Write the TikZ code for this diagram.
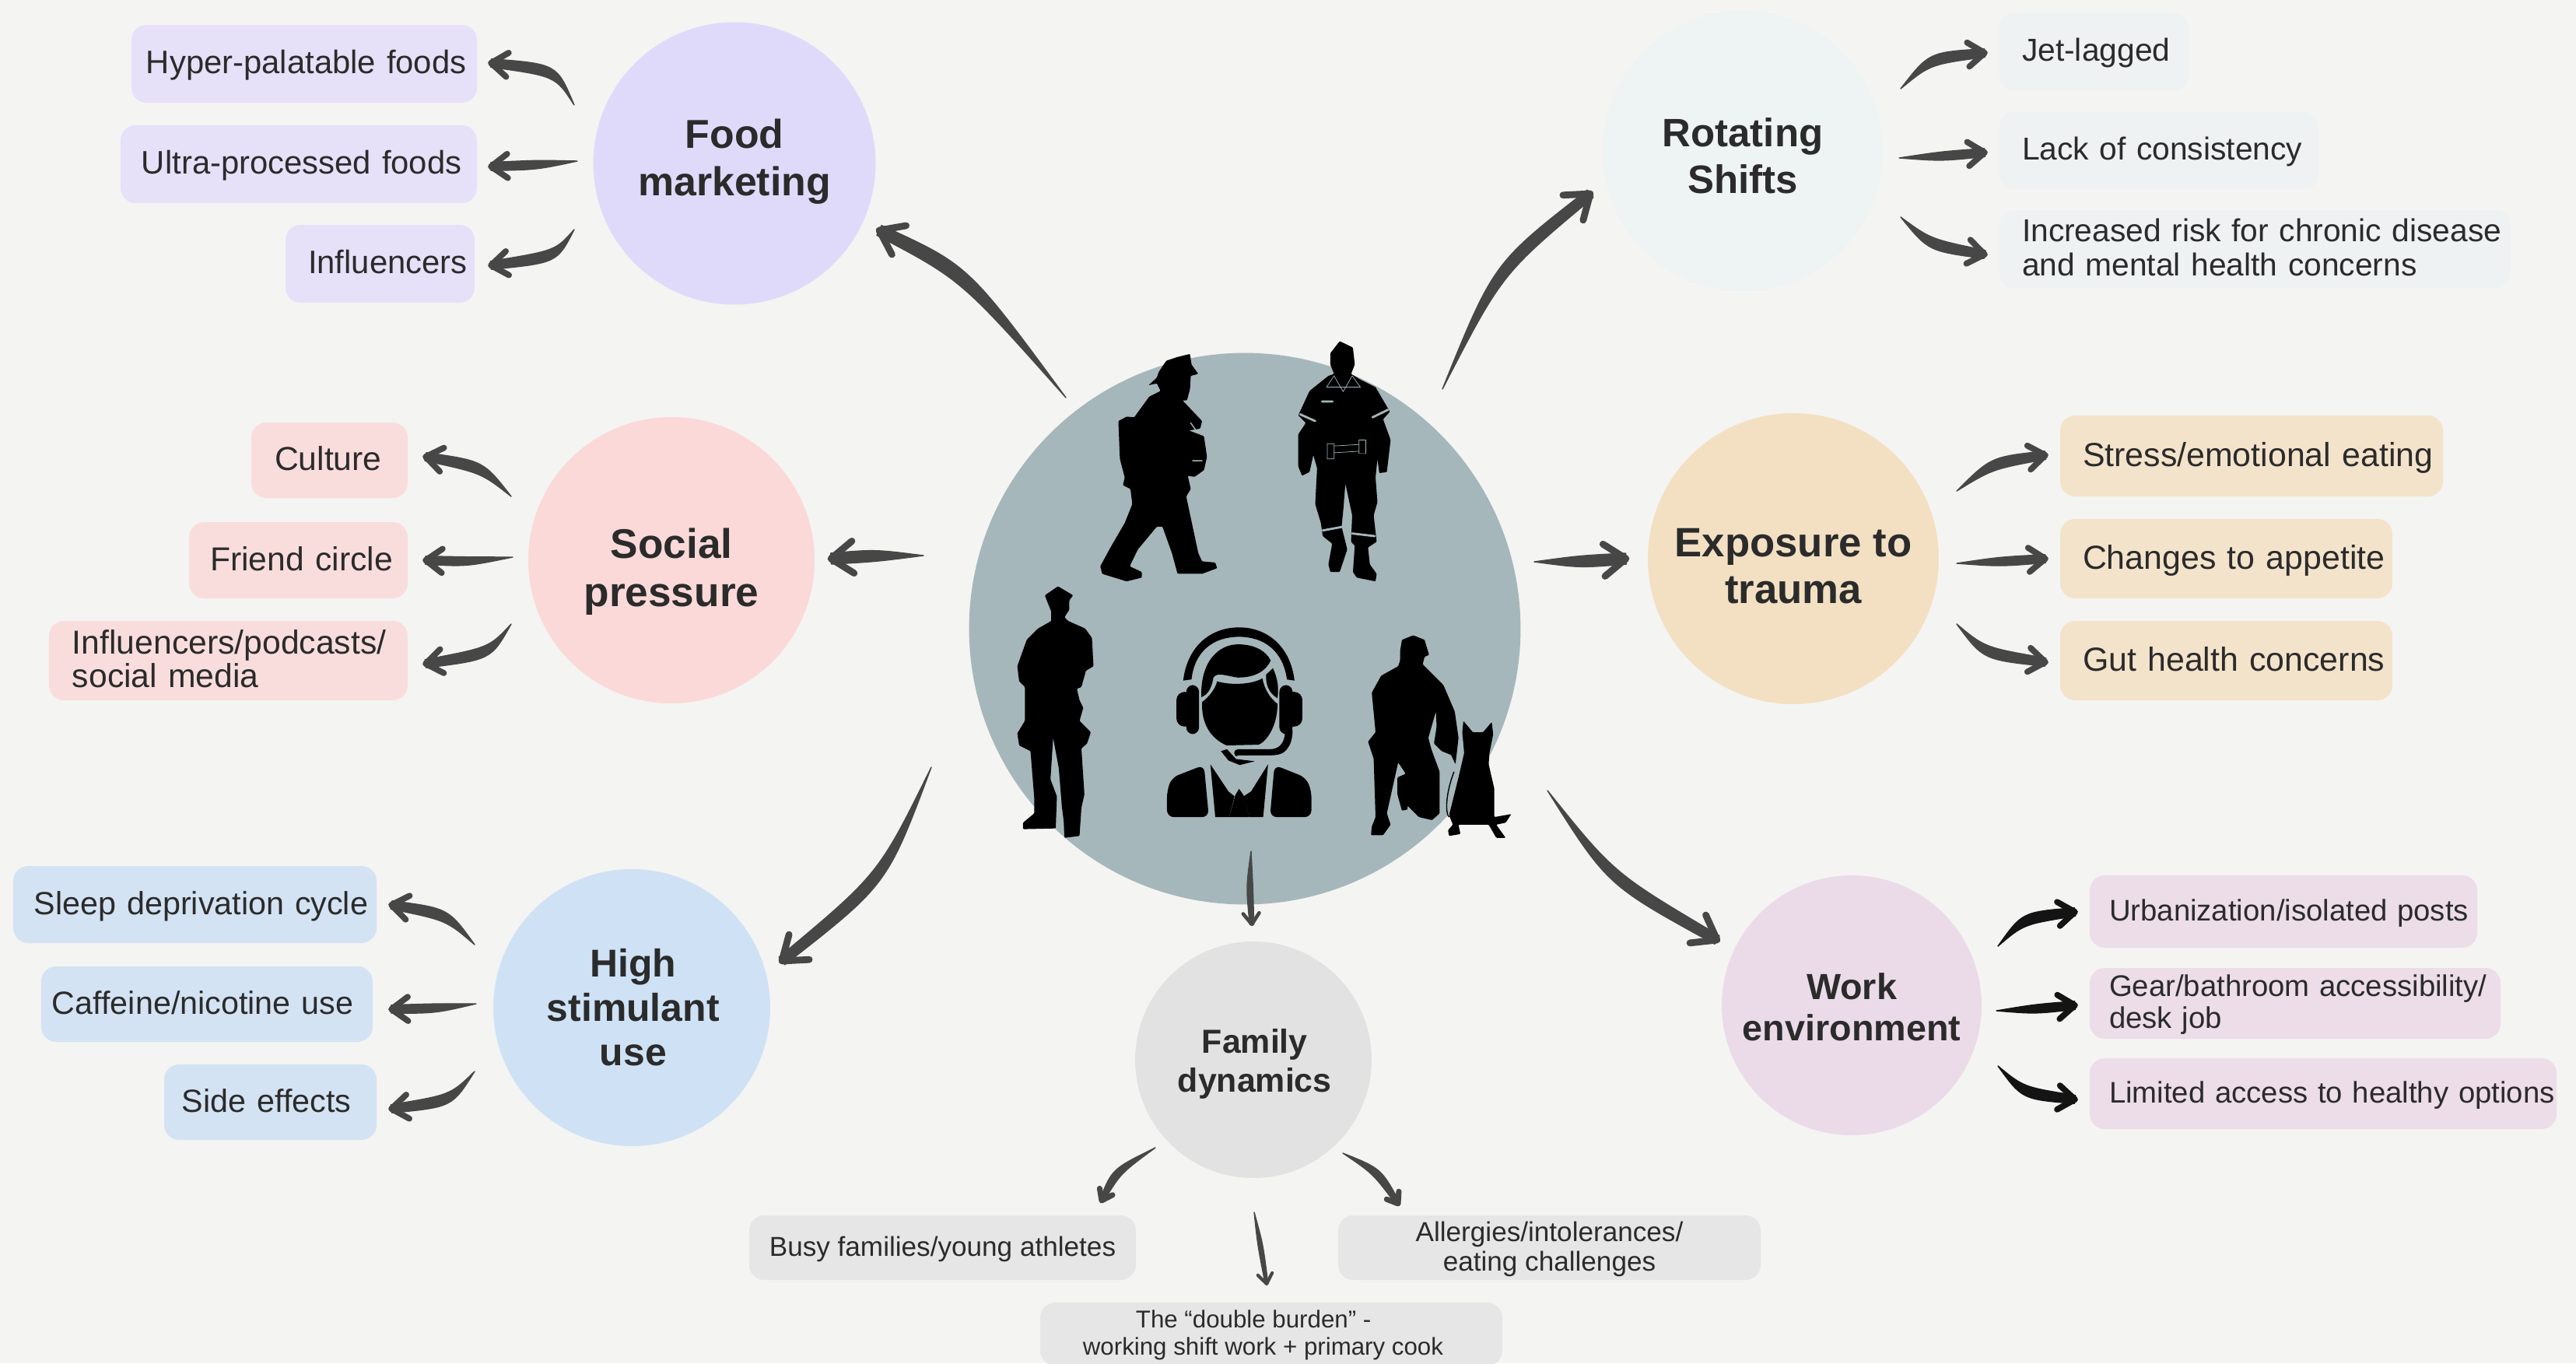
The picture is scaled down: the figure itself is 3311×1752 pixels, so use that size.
\documentclass[tikz,border=0pt]{standalone}
\usepackage{fontspec}
\setmainfont{Liberation Sans}
\usetikzlibrary{calc}
\definecolor{bgc}{HTML}{F4F4F2}
\definecolor{arrowc}{HTML}{474747}
\definecolor{workarrow}{HTML}{141414}
\definecolor{ctrc}{HTML}{A5B7BB}
\definecolor{txtc}{HTML}{2B2B2B}
\definecolor{foodc}{HTML}{E0DAFA}\definecolor{foodb}{HTML}{E6E1F8}
\definecolor{socc}{HTML}{FBD9D9}\definecolor{socb}{HTML}{F9DDDD}
\definecolor{higc}{HTML}{CFE2F5}\definecolor{higb}{HTML}{D4E3F3}
\definecolor{rotc}{HTML}{EEF3F3}\definecolor{rotb}{HTML}{EEF2F3}
\definecolor{expc}{HTML}{F3E0C3}\definecolor{expb}{HTML}{F4E3CB}
\definecolor{wrkc}{HTML}{EBDBE8}\definecolor{wrkb}{HTML}{ECDDE9}
\definecolor{famc}{HTML}{E2E2E2}\definecolor{famb}{HTML}{E6E6E6}
\tikzset{
 hub/.style={circle,inner sep=0pt},
 hubtext/.style={align=center,text=txtc,inner sep=0pt},
 boxbase/.style={rounded corners=11pt,inner sep=0pt,text=txtc},
 sil/.style={fill=black,draw=none,rounded corners=0.6pt},
 gap/.style={draw=ctrc,line cap=round,line join=round},
}
\newcommand\tall{\rule[-0.21em]{0pt}{1.03em}}
\newcommand\deep{\rule[-0.21em]{0pt}{0pt}}
% #1 name, #2-#5 box, #6 style, #7 left padding, #8 text (\pd starts each further line)
\newcommand\bx[8]{%
 \pgfmathsetmacro\bw{(#4-#2)*0.02}\pgfmathsetmacro\bh{(#5-#3)*0.02}\pgfmathsetmacro\bp{#7*0.02}%
 \def\pd{\hspace*{\bp cm}}%
 \node[boxbase,#6,align=left,text width=\bw cm,minimum height=\bh cm] (#1) at ({(#2+#4)/2},{(#3+#5)/2}) {\pd\tall #8\deep};}
\newcommand\gx[7]{%
 \pgfmathsetmacro\bw{(#4-#2)*0.02}\pgfmathsetmacro\bh{(#5-#3)*0.02}%
 \node[boxbase,#6,align=center,minimum width=\bw cm,minimum height=\bh cm] (#1) at ({(#2+#4)/2},{(#3+#5)/2}) {\tall #7\deep};}
% #1 colour, #2 tail, #3 control, #4 tip, #5 half width, #6 half width at the tip, #7 barb length, #8 barb width
\newcommand\brush[8][arrowc]{%
 \fill[#1,draw=#1,line width=0.8pt,line join=round] (#2) .. controls ($#3!#5!90:(#4)$) .. ($(#4)!#6!-90:#3$) -- ($(#4)!#6!90:#3$) .. controls ($#3!#5!-90:(#4)$) .. (#2) -- cycle;
 \draw[#1,line width=#8,line cap=round,line join=round] ($(#4)!#7!36:#3$) -- (#4) -- ($(#4)!#7!-36:#3$);}
\begin{document}
\begin{tikzpicture}[x=0.02cm,y=-0.02cm]
\useasboundingbox (0,0) rectangle (3311,1752);
\clip (0,0) rectangle (3311,1752);
\fill[bgc] (0,0) rectangle (3311,1752);
% centre
\node[circle,fill=ctrc,minimum size=14.18cm,inner sep=0pt] (centre) at (1600,808) {};
% silhouettes
\begin{scope}[shift={(1230,420)},scale=0.4847]
 % firefighter
 \fill[sil] (535,120)--(555,90)--(585,80)--(618,72)--(622,100)--(640,125)--(620,130)--(618,165)--(610,195)--(598,195)--(650,250)--(645,270)--(615,275)--(655,290)--(663,345)--(655,380)--(630,398)--(612,395)--(620,430)--(608,450)--(625,530)--(640,600)--(650,622)--(685,625)--(690,640)--(650,655)--(585,655)--(570,600)--(545,530)--(530,530)--(480,590)--(458,635)--(490,650)--(490,665)--(450,675)--(385,655)--(380,635)--(410,580)--(445,520)--(465,470)--(460,430)--(440,420)--(445,400)--(432,350)--(428,250)--(450,238)--(470,240)--(510,185)--(540,170)--(530,150)--(508,155)--(530,135)--cycle;
 \draw[gap,line width=0.8pt] (620,255)--(632,272) (625,355)--(650,355);
 % paramedic
 \fill[sil] (990,70)--(1015,38)--(1050,55)--(1055,100)--(1045,125)--(1070,140)--(1110,160)--(1148,225)--(1130,245)--(1150,300)--(1140,385)--(1120,388)--(1115,350)--(1110,400)--(1115,465)--(1105,500)--(1113,570)--(1090,585)--(1095,630)--(1113,655)--(1110,675)--(1060,665)--(1050,650)--(1055,580)--(1045,570)--(1048,500)--(1030,415)--(1025,480)--(1020,530)--(1035,590)--(1015,650)--(990,650)--(985,630)--(995,575)--(970,555)--(965,520)--(950,470)--(955,375)--(945,340)--(935,385)--(915,395)--(905,370)--(905,285)--(925,255)--(905,235)--(935,170)--(985,130)--(1000,125)--(990,100)--cycle;
 \draw[gap,line width=1.6pt] (910,232)--(950,250) (1102,240)--(1143,220) (970,540)--(1024,530) (1048,548)--(1108,555) (968,198)--(996,198);
 \draw[gap,line width=0.4pt] (982,310) rectangle (1000,350) (1066,300) rectangle (1084,336) (1000,316)--(1066,312) (1000,334)--(1066,330) (980,160)--(1070,160)--(1048,130)--(1024,172)--(1000,130)--cycle;
 % police officer
 \fill[sil] (233,712)--(268,688)--(308,712)--(298,725)--(298,750)--(285,770)--(295,780)--(340,800)--(358,825)--(362,900)--(342,912)--(330,955)--(318,960)--(325,990)--(335,1010)--(325,1045)--(355,1075)--(345,1105)--(330,1118)--(338,1240)--(330,1275)--(325,1350)--(285,1355)--(283,1310)--(278,1270)--(270,1170)--(255,1090)--(248,1200)--(265,1245)--(262,1330)--(175,1332)--(175,1315)--(205,1290)--(205,1250)--(195,1125)--(165,1110)--(160,1078)--(180,1045)--(180,955)--(165,940)--(160,900)--(185,830)--(215,800)--(250,780)--(250,755)--(240,730)--cycle;
 % dispatcher
 \fill[black] (600,938) .. controls (610,850) and (670,797) .. (748,797) .. controls (825,797) and (885,850) .. (895,938) -- (875,935) .. controls (865,860) and (815,822) .. (748,822) .. controls (680,822) and (630,860) .. (622,935) -- cycle;
 \fill[black,rounded corners=6pt] (582,968) rectangle (625,1060) (870,968) rectangle (916,1060);
 \fill[black,rounded corners=5pt] (608,950) rectangle (642,1080) (855,950) rectangle (890,1080);
 \fill[black] (648,982) .. controls (645,880) and (700,842) .. (745,842) .. controls (790,842) and (820,860) .. (832,885) .. controls (815,920) and (780,930) .. (745,930) .. controls (710,925) and (690,915) .. (680,930) .. controls (675,960) and (665,975) .. (648,982) -- cycle;
 \fill[black] (838,905) .. controls (853,940) and (853,960) .. (850,985) .. controls (825,970) and (818,945) .. (820,922) -- cycle;
 \fill[black] (650,995) .. controls (670,980) and (685,960) .. (690,940) .. controls (720,950) and (780,950) .. (810,932) .. controls (815,960) and (830,985) .. (850,1000) .. controls (850,1060) and (820,1100) .. (800,1108) -- (715,1110) .. controls (670,1090) and (648,1050) .. (650,995) -- cycle;
 \draw[black,line width=5.5pt,line cap=round] (880,1070) .. controls (880,1110) and (860,1130) .. (830,1130) -- (745,1130);
 \draw[ctrc,line width=2pt,line cap=round] (895,1070) .. controls (895,1125) and (870,1140) .. (830,1140) -- (745,1140);
 \fill[black] (700,1125) -- (720,1150) -- (750,1162) -- (790,1152) -- (740,1146) -- (716,1120) -- cycle;
 \fill[black,rounded corners=5pt] (557,1300) -- (557,1230) -- (570,1195) -- (655,1162) -- (668,1300) -- cycle;
 \fill[black,rounded corners=5pt] (940,1300) -- (940,1230) -- (925,1195) -- (842,1162) -- (830,1300) -- cycle;
 \fill[black] (672,1160) -- (720,1232) -- (736,1245) -- (722,1300) -- (685,1300) -- cycle;
 \fill[black] (825,1160) -- (780,1232) -- (760,1245) -- (775,1300) -- (812,1300) -- cycle;
 \fill[black] (738,1242) -- (722,1300) -- (775,1300) -- (760,1242) -- (748,1225) -- cycle;
 % K9 handler
 \fill[sil] (1175,860)--(1180,830)--(1210,818)--(1240,830)--(1252,870)--(1240,875)--(1235,895)--(1255,915)--(1290,950)--(1320,1020)--(1330,1090)--(1322,1160)--(1310,1135)--(1285,1125)--(1265,1105)--(1272,1060)--(1270,1020)--(1250,1090)--(1258,1120)--(1280,1180)--(1280,1290)--(1260,1308)--(1225,1300)--(1195,1270)--(1195,1280)--(1180,1283)--(1168,1240)--(1168,1195)--(1190,1185)--(1170,1155)--(1140,1290)--(1150,1320)--(1130,1348)--(1098,1348)--(1100,1325)--(1110,1300)--(1105,1145)--(1090,1100)--(1110,1075)--(1100,970)--(1125,925)--(1170,900)--(1175,885)--cycle;
 % dog
 \fill[sil] (1340,1075)--(1343,1045)--(1368,1075)--(1395,1075)--(1418,1048)--(1422,1080)--(1412,1130)--(1410,1160)--(1425,1225)--(1425,1300)--(1470,1292)--(1455,1315)--(1430,1320)--(1455,1355)--(1430,1355)--(1410,1320)--(1370,1320)--(1330,1320)--(1335,1345)--(1305,1350)--(1302,1335)--(1315,1320)--(1305,1295)--(1330,1195)--(1345,1130)--cycle;
 \draw[black,line width=0.8pt] (1318,1180) .. controls (1295,1240) and (1295,1290) .. (1305,1300);
\end{scope}
% hubs
\node[hub,fill=foodc,minimum size=7.26cm,label={[hubtext,font=\fontsize{29.5}{34.5}\selectfont\bfseries,yshift=1.2pt]center:{Food\\marketing}}] (food) at (944,210) {};
\node[hub,fill=rotc,minimum size=7.2cm,label={[hubtext,font=\fontsize{29}{34.5}\selectfont\bfseries,yshift=-3.6pt]center:{Rotating\\Shifts}}] (rot) at (2240,194) {};
\node[hub,fill=expc,minimum size=7.48cm,label={[hubtext,font=\fontsize{30}{34.5}\selectfont\bfseries,yshift=-5.4pt]center:{Exposure to\\trauma}}] (exp) at (2305,718) {};
\node[hub,fill=socc,minimum size=7.36cm,label={[hubtext,font=\fontsize{30.3}{35.5}\selectfont\bfseries,yshift=-8.4pt]center:{Social\\pressure}}] (soc) at (863,720) {};
\node[hub,fill=higc,minimum size=7.12cm,label={[hubtext,font=\fontsize{28.4}{32.5}\selectfont\bfseries,xshift=1pt]center:{High\\stimulant\\use}}] (hig) at (812,1295) {};
\node[hub,fill=famc,minimum size=6.08cm,label={[hubtext,font=\fontsize{24.4}{28.7}\selectfont\bfseries,yshift=-3pt,xshift=1pt]center:{Family\\dynamics}}] (fam) at (1611,1362) {};
\node[hub,fill=wrkc,minimum size=6.68cm,label={[hubtext,font=\fontsize{26.6}{30}\selectfont\bfseries,yshift=-1.2pt]center:{Work\\environment}}] (wrk) at (2380,1292) {};
% boxes
\tikzset{
 fb/.style={fill=foodb,font=\fontsize{23.8}{28}\selectfont},
 sb/.style={fill=socb,font=\fontsize{24.3}{25}\selectfont},
 hb/.style={fill=higb,font=\fontsize{23.5}{27}\selectfont},
 rb/.style={fill=rotb,font=\fontsize{23.2}{25}\selectfont},
 eb/.style={fill=expb,font=\fontsize{24.4}{27}\selectfont},
 wb/.style={fill=wrkb,font=\fontsize{21.8}{23}\selectfont},
 gb/.style={fill=famb,font=\fontsize{20}{21.5}\selectfont},
 gc/.style={fill=famb,font=\fontsize{17.8}{20.3}\selectfont},
}
\bx{b1}{169}{32}{613}{132}{fb}{19}{Hyper-palatable foods}
\bx{b2}{155}{161}{613}{261}{fb}{27}{Ultra-processed foods}
\bx{b3}{367}{289}{610}{389}{fb}{29}{Influencers}
\bx{b4}{323}{543}{524}{640}{sb}{30}{Culture}
\bx{b5}{243}{671}{524}{769}{sb}{27}{Friend circle}
\bx{b6}{63}{798}{524}{900}{sb}{30}{Influencers/podcasts/\\\pd social media}
\bx{b7}{17}{1113}{484}{1212}{hb}{27}{Sleep deprivation cycle}
\bx{b8}{53}{1242}{479}{1339}{hb}{14}{Caffeine/nicotine use}
\bx{b9}{211}{1368}{484}{1465}{hb}{23}{Side effects}
\bx{b10}{2570}{17}{2813}{116}{rb}{29}{Jet-lagged}
\bx{b11}{2570}{144}{2980}{243}{rb}{29}{Lack of consistency}
\bx{b12}{2570}{270}{3227}{370}{rb}{29}{Increased risk for chronic disease\\\pd and mental health concerns}
\bx{b13}{2648}{534}{3140}{638}{eb}{29}{Stress/emotional eating}
\bx{b14}{2648}{667}{3075}{769}{eb}{29}{Changes to appetite}
\bx{b15}{2648}{798}{3075}{900}{eb}{29}{Gut health concerns}
\bx{b16}{2686}{1125}{3184}{1218}{wb}{25}{Urbanization/isolated posts}
\bx{b17}{2686}{1244}{3214}{1335}{wb}{25}{Gear/bathroom accessibility/\\\pd desk job}
\bx{b18}{2686}{1360}{3286}{1451}{wb}{25}{Limited access to healthy options}
\gx{b19}{963}{1562}{1460}{1645}{gb}{Busy families/young athletes}
\gx{b20}{1720}{1562}{2263}{1645}{gb}{Allergies/intolerances/\\eating challenges}
\gx{b21}{1337}{1674}{1931}{1755}{gc}{The “double burden” -\hspace*{26pt}\\working shift work + primary cook\hspace*{12pt}}
% connector ends
\foreach \n/\p in {
 c1a/{1370,511},c1b/{1130,296},c2a/{1854,500},c2b/{2044,249},c3a/{1187,714},c3b/{1068,718},
 c4a/{1972,722},c4b/{2090,718},c5a/{1197,986},c5b/{1005,1235},c6a/{1989,1016},c6b/{2207,1208},c7a/{1608,1094},c7b/{1609,1188},
 f1a/{738,135},f1b/{631,81},f2a/{742,207},f2b/{631,214},f3a/{738,295},f3b/{631,341},
 s1a/{657,638},s1b/{547,587},s2a/{659,716},s2b/{547,720},s3a/{657,802},s3b/{547,853},
 h1a/{610,1214},h1b/{503,1163},h2a/{612,1290},h2b/{503,1297},h3a/{610,1377},h3b/{503,1425},
 r1a/{2443,114},r1b/{2551,68},r2a/{2441,203},r2b/{2551,196},r3a/{2443,279},r3b/{2551,327},
 e1a/{2515,631},e1b/{2629,585},e2a/{2515,724},e2b/{2629,718},e3a/{2515,802},e3b/{2629,851},
 w1a/{2568,1216},w1b/{2667,1172},w2a/{2566,1299},w2b/{2667,1292},w3a/{2568,1370},w3b/{2667,1413},
 d1a/{1485,1475},d1b/{1416,1543},d2a/{1612,1558},d2b/{1628,1650},d3a/{1726,1482},d3b/{1797,1547}}
 {\coordinate (\n) at (\p);}
% main arrows
\brush{c1a}{(1240,350)}{c1b}{6pt}{4pt}{20pt}{5pt}
\brush{c2a}{(1925,345)}{c2b}{5pt}{3.5pt}{20pt}{5pt}
\brush{c3a}{(1125,714)}{c3b}{4.5pt}{4pt}{20pt}{5pt}
\brush{c4a}{(2030,722)}{c4b}{4.5pt}{4pt}{20pt}{5pt}
\brush{c5a}{(1135,1130)}{c5b}{5pt}{3.5pt}{20pt}{5pt}
\brush{c6a}{(2070,1130)}{c6b}{5pt}{3.5pt}{20pt}{5pt}
\brush{c7a}{(1606,1140)}{c7b}{2.5pt}{1.5pt}{10pt}{2.6pt}
% secondary arrows
\brush{f1a}{(715,90)}{f1b}{4.5pt}{3pt}{15pt}{4.4pt}
\brush{f2a}{(690,212)}{f2b}{3.5pt}{3pt}{15pt}{4.4pt}
\brush{f3a}{(715,330)}{f3b}{4.5pt}{3pt}{15pt}{4.4pt}
\brush{s1a}{(620,600)}{s1b}{4.5pt}{3pt}{15pt}{4.4pt}
\brush{s2a}{(600,722)}{s2b}{3.5pt}{3pt}{15pt}{4.4pt}
\brush{s3a}{(630,840)}{s3b}{4.5pt}{3pt}{15pt}{4.4pt}
\brush{h1a}{(575,1175)}{h1b}{4.5pt}{3pt}{15pt}{4.4pt}
\brush{h2a}{(560,1296)}{h2b}{3.5pt}{3pt}{15pt}{4.4pt}
\brush{h3a}{(580,1415)}{h3b}{4.5pt}{3pt}{15pt}{4.4pt}
\brush{r1a}{(2480,75)}{r1b}{4.5pt}{3pt}{15pt}{4.4pt}
\brush{r2a}{(2495,201)}{r2b}{3.5pt}{3pt}{15pt}{4.4pt}
\brush{r3a}{(2480,315)}{r3b}{4.5pt}{3pt}{15pt}{4.4pt}
\brush{e1a}{(2560,595)}{e1b}{4.5pt}{3pt}{15pt}{4.4pt}
\brush{e2a}{(2570,722)}{e2b}{3.5pt}{3pt}{15pt}{4.4pt}
\brush{e3a}{(2550,840)}{e3b}{4.5pt}{3pt}{15pt}{4.4pt}
\brush[workarrow]{w1a}{(2600,1180)}{w1b}{4.5pt}{3pt}{15pt}{4.4pt}
\brush[workarrow]{w2a}{(2615,1297)}{w2b}{3.5pt}{3pt}{15pt}{4.4pt}
\brush[workarrow]{w3a}{(2600,1405)}{w3b}{4.5pt}{3pt}{15pt}{4.4pt}
\brush{d1a}{(1435,1505)}{d1b}{3.5pt}{1.5pt}{9pt}{4pt}
\brush{d2a}{(1620,1600)}{d2b}{2pt}{1pt}{9pt}{2.4pt}
\brush{d3a}{(1770,1505)}{d3b}{3.5pt}{1.5pt}{9pt}{4pt}
\end{tikzpicture}
\end{document}
